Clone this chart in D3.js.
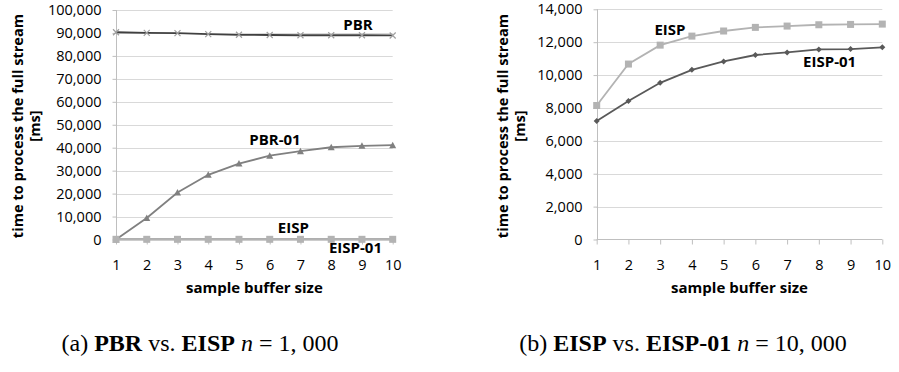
<!DOCTYPE html>
<html>
<head>
<meta charset="utf-8">
<script src="https://cdn.jsdelivr.net/npm/d3@7"></script>
<style>
  body { margin: 0; background: #fff; }
  svg text { font-family: "Open Sans", "Lato", sans-serif; fill: #000; }
  svg text.caption { font-family: "Liberation Serif", "DejaVu Serif", serif; }
</style>
</head>
<body>
<svg id="chart" width="899" height="372"></svg>
<script>
// Data
var bufferSizes = [1, 2, 3, 4, 5, 6, 7, 8, 9, 10];

// panel (a), n = 1,000
var pbr = [90300, 90000, 89900, 89500, 89200, 89100, 89000, 89000, 89000, 88900];
var pbr01 = [0, 9400, 20500, 28200, 33100, 36500, 38500, 40200, 40800, 41100];
var eispA = [80, 80, 80, 80, 80, 80, 80, 80, 80, 80];
var eisp01A = [60, 60, 60, 60, 60, 60, 60, 60, 60, 60];
var ticksA = [0, 10000, 20000, 30000, 40000, 50000, 60000, 70000, 80000, 90000, 100000];

// panel (b), n = 10,000
var eispB = [8150, 10670, 11820, 12370, 12680, 12900, 12980, 13060, 13080, 13100];
var eisp01B = [7200, 8420, 9530, 10320, 10830, 11220, 11380, 11560, 11580, 11690];
var ticksB = [0, 2000, 4000, 6000, 8000, 10000, 12000, 14000];

var svg = d3.select("#chart");
var fmt = d3.format(",");

// Colours for the series
var darkLine = "#404040",
    midLine = "#808080",
    lightLine = "#b3b3b3",
    diamondLine = "#595959";

function drawPanel(p) {
    var g = svg.append("g");

    var x = d3.scaleLinear()
        .domain([1, 10])
        .range([p.left, p.right]);
    var y = d3.scaleLinear()
        .domain([0, d3.max(p.ticks)])
        .range([239.5, p.top]);

    // gridlines
    g.selectAll(".grid")
        .data(p.ticks.slice(1))
        .enter().append("line")
        .attr("x1", p.left).attr("x2", p.right)
        .attr("y1", function (d) { return Math.round(y(d)) + 0.5; })
        .attr("y2", function (d) { return Math.round(y(d)) + 0.5; })
        .attr("stroke", "#d9d9d9");

    // y axis
    var yAxis = d3.axisLeft(y).tickValues(p.ticks).tickFormat(fmt).tickSize(4).tickPadding(11);
    var ya = g.append("g")
        .attr("transform", "translate(" + (Math.round(p.left) + 0.5) + ",0)")
        .call(yAxis);
    ya.select(".domain").attr("stroke", "#bfbfbf").attr("d", "M0," + y(0) + "V" + p.top);
    ya.selectAll(".tick line").attr("stroke", "#bfbfbf");
    ya.selectAll(".tick text").style("font-size", "14.5px");

    // x axis
    var xAxis = d3.axisBottom(x).tickValues(bufferSizes).tickSize(5).tickPadding(15);
    var xa = g.append("g")
        .attr("transform", "translate(0," + y(0) + ")")
        .call(xAxis);
    xa.select(".domain").attr("stroke", "#bfbfbf").attr("d", "M" + p.left + ",0H" + p.right);
    xa.selectAll(".tick line").attr("stroke", "#bfbfbf");
    xa.selectAll(".tick text").style("font-size", "14.5px");

    // axis titles
    g.append("text")
        .attr("x", (p.left + p.right) / 2)
        .attr("y", 293)
        .attr("text-anchor", "middle")
        .style("font-size", "15px")
        .style("font-weight", "bold")
        .text("sample buffer size");

    var yt = g.append("text")
        .attr("transform", "translate(" + p.titleX + ",126) rotate(-90)")
        .attr("text-anchor", "middle")
        .style("font-size", "14.6px")
        .style("font-weight", "bold");
    yt.append("tspan").attr("x", 0).attr("dy", 0).text("time to process the full stream");
    yt.append("tspan").attr("x", 0).attr("dy", 17).text("[ms]");

    var line = d3.line()
        .x(function (d, i) { return x(bufferSizes[i]); })
        .y(function (d) { return y(d); });

    p.series.forEach(function (s) {
        g.append("path")
            .datum(s.values)
            .attr("fill", "none")
            .attr("stroke", s.color)
            .attr("stroke-width", 1.8)
            .attr("d", line);

        var m = g.append("g").selectAll("g")
            .data(s.values)
            .enter().append("g")
            .attr("transform", function (d, i) { return "translate(" + x(bufferSizes[i]) + "," + y(d) + ")"; });

        if (s.marker === "cross") {
            m.append("path").attr("d", "M-3,-3L3,3M-3,3L3,-3")
                .attr("stroke", s.markerColor).attr("stroke-width", 1.2);
        } else if (s.marker === "square") {
            m.append("rect").attr("x", -3.5).attr("y", -3.5).attr("width", 7).attr("height", 7)
                .attr("fill", s.markerColor);
        } else if (s.marker === "triangle") {
            m.append("path").attr("d", "M0,-3.5L3.5,3L-3.5,3Z").attr("fill", s.markerColor);
        } else {
            m.append("path").attr("d", "M0,-3L3,0L0,3L-3,0Z").attr("fill", s.markerColor);
        }
    });

    // series labels
    p.labels.forEach(function (l) {
        g.append("text")
            .attr("x", x(l.at))
            .attr("y", y(l.value))
            .attr("text-anchor", "middle")
            .style("font-size", "15px")
            .style("font-weight", "bold")
            .text(l.text);
    });

    // caption under the panel
    var cap = g.append("text")
        .attr("class", "caption")
        .attr("x", p.captionX)
        .attr("y", 351)
        .attr("text-anchor", "middle")
        .style("font-size", "24px");
    p.caption.forEach(function (c) {
        cap.append("tspan")
            .style("font-weight", c.bold ? "bold" : "normal")
            .style("font-style", c.italic ? "italic" : "normal")
            .text(c.t);
    });
}

drawPanel({
    left: 116, right: 392.7, top: 10, titleX: 23,
    ticks: ticksA,
    series: [
        { values: pbr, color: darkLine, markerColor: "#a0a0a0", marker: "cross" },
        { values: pbr01, color: midLine, markerColor: "#808080", marker: "triangle" },
        { values: eisp01A, color: diamondLine, markerColor: diamondLine, marker: "diamond" },
        { values: eispA, color: lightLine, markerColor: lightLine, marker: "square" }
    ],
    labels: [
        { text: "PBR", at: 8.87, value: 91300 },
        { text: "PBR-01", at: 6.17, value: 41100 },
        { text: "EISP", at: 6.77, value: 2750 },
        { text: "EISP-01", at: 8.79, value: -6000 }
    ],
    captionX: 200,
    caption: [
        { t: "(a) " }, { t: "PBR", bold: true }, { t: " vs. " }, { t: "EISP", bold: true },
        { t: " " }, { t: "n", italic: true }, { t: " = 1, 000" }
    ]
});

drawPanel({
    left: 596.7, right: 882.3, top: 9.3, titleX: 508,
    ticks: ticksB,
    series: [
        { values: eispB, color: lightLine, markerColor: lightLine, marker: "square" },
        { values: eisp01B, color: diamondLine, markerColor: diamondLine, marker: "diamond" }
    ],
    labels: [
        { text: "EISP", at: 3.31, value: 12435 },
        { text: "EISP-01", at: 8.34, value: 10490 }
    ],
    captionX: 683,
    caption: [
        { t: "(b) " }, { t: "EISP", bold: true }, { t: " vs. " }, { t: "EISP-01", bold: true },
        { t: " " }, { t: "n", italic: true }, { t: " = 10, 000" }
    ]
});
</script>
</body>
</html>
